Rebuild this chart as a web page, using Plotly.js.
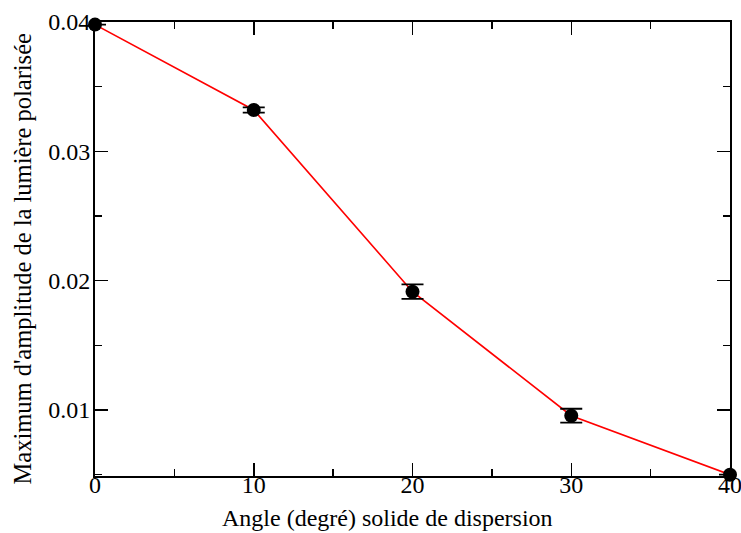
<!DOCTYPE html>
<html>
<head>
<meta charset="utf-8">
<script src="https://cdn.plot.ly/plotly-3.0.1.min.js"></script>
<style>html,body{margin:0;padding:0;background:#fff;}#chart{width:741px;height:533px;}</style>
</head>
<body>
<div id="chart"></div>
<script>
const angles = [0, 10, 20, 30, 40];
const amplitude = [0.0398, 0.0332, 0.01915, 0.00956, 0.0050];
const errors = [0, 0.0002, 0.00056, 0.00054, 0];
const xTitle = "Angle (degré) solide de dispersion";
const yTitle = "Maximum d'amplitude de la lumière polarisée";

const FAM = "'Liberation Serif', 'Times New Roman', Times, serif";
function f(size) { return {family: FAM, size: size, color: "#000000"}; }

const traces = [
  {x: angles, y: amplitude, type: "scatter", mode: "lines",
   line: {color: "#ff0000", width: 1.6}, hoverinfo: "skip", showlegend: false, cliponaxis: false},
  {x: angles, y: amplitude, type: "scatter", mode: "markers",
   marker: {color: "#000", size: 14},
   error_y: {type: "data", array: errors, visible: true, color: "#000", thickness: 1.8, width: 11},
   showlegend: false, cliponaxis: false}
];

function axis(extra) {
  return Object.assign({
    showgrid: false, zeroline: false, showline: true, linecolor: "#000", linewidth: 2,
    mirror: "allticks", ticks: "inside", ticklen: 13, tickwidth: 1.5, tickcolor: "#000",
    tickfont: f(24), ticklabeloverflow: "allow"
  }, extra);
}

const layout = {
  width: 741, height: 533,
  margin: {l: 95, r: 11, t: 22, b: 57},
  paper_bgcolor: "#fff", plot_bgcolor: "#fff",
  font: f(24),
  xaxis: axis({
    range: [0, 40], dtick: 10, tick0: 0, ticklabelstandoff: -14,
    minor: {ticks: "inside", ticklen: 7, tickwidth: 1.5, tickcolor: "#000", dtick: 5}
  }),
  yaxis: axis({
    range: [0.0049, 0.04], dtick: 0.01, tick0: 0, ticklabelstandoff: -2,
    minor: {ticks: "inside", ticklen: 7, tickwidth: 1.5, tickcolor: "#000", dtick: 0.005}
  }),
  annotations: [
    {text: xTitle, xref: "paper", yref: "paper", x: (387 - 95) / 635, y: -(518 - 476) / 454,
     xanchor: "center", yanchor: "middle", showarrow: false, font: f(24), borderpad: 0},
    {text: yTitle, xref: "paper", yref: "paper", x: -(95 - 7) / 635, y: (476 - 259) / 454, textangle: -90,
     xanchor: "left", yanchor: "middle", showarrow: false, font: f(24.5), borderpad: 0}
  ]
};

Plotly.newPlot("chart", traces, layout, {displayModeBar: false, staticPlot: true});
</script>
</body>
</html>
